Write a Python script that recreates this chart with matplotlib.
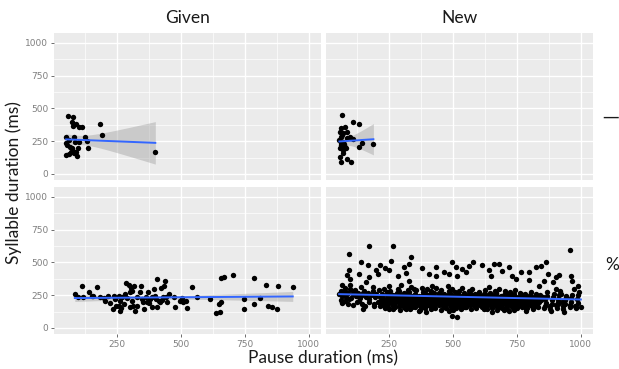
import numpy as np
import matplotlib.pyplot as plt

# facet labels
cols = ["Given", "New"]
rows = ["\u2014", "%"]

# (pause ms, syllable ms), one list per facet
given_dash = [(56, 439), (78, 434), (73, 393), (78, 367), (89, 383), (99, 355), (112, 355),
              (181, 383), (190, 298), (50, 286), (82, 286), (122, 286), (132, 253), (86, 247),
              (50, 235), (66, 209), (73, 196), (78, 179), (89, 171), (62, 153), (50, 145),
              (93, 138), (136, 199), (399, 171), (54, 222), (69, 171), (82, 158), (95, 196),
              (101, 247), (60, 260)]

new_dash = [(66, 450), (110, 400), (133, 382), (63, 349), (77, 361), (57, 323), (70, 310),
            (83, 323), (60, 285), (55, 260), (70, 247), (83, 272), (63, 221), (77, 209),
            (57, 196), (70, 183), (133, 209), (142, 234), (188, 226), (57, 132), (63, 94),
            (86, 112), (99, 94), (110, 265), (96, 285), (66, 300), (74, 232), (60, 240),
            (80, 198), (68, 160)]

given_pct = [(84, 259), (98, 234), (114, 317), (157, 241), (170, 315), (183, 234), (203, 208),
             (212, 246), (222, 190), (242, 221), (255, 246), (262, 208), (255, 165), (259, 132),
             (266, 150), (275, 183), (285, 343), (295, 327), (304, 302), (314, 317), (281, 259),
             (290, 226), (301, 272), (308, 208), (299, 157), (312, 165), (321, 132), (327, 234),
             (338, 272), (343, 317), (351, 195), (356, 145), (364, 234), (369, 277), (373, 190),
             (380, 221), (386, 157), (393, 297), (396, 241), (406, 373), (413, 208), (422, 302),
             (430, 234), (433, 317), (435, 360), (442, 234), (406, 157), (416, 195), (446, 195),
             (452, 259), (141, 272), (150, 246), (117, 234), (236, 241), (246, 170), (268, 234),
             (233, 145), (199, 226), (308, 284), (327, 165), (347, 221), (367, 195), (386, 234),
             (400, 221), (426, 216), (472, 234), (478, 157), (495, 208), (504, 226), (508, 195),
             (518, 208), (524, 150), (544, 310), (564, 234), (614, 221), (636, 114), (653, 119),
             (649, 183), (656, 378), (669, 386), (702, 404), (656, 195), (745, 221), (745, 145),
             (787, 378), (787, 183), (807, 226), (833, 327), (839, 170), (855, 157), (876, 145),
             (881, 317), (937, 315)]

new_pct = [(172, 627), (263, 622), (91, 563), (335, 538), (139, 500), (165, 480), (213, 480),
           (257, 508), (234, 454), (198, 444), (205, 411), (250, 444), (130, 411), (91, 444),
           (83, 404), (96, 373), (65, 327), (61, 284), (78, 302), (67, 246), (65, 201), (93, 221),
           (54, 259), (110, 284), (120, 246), (146, 266), (159, 348), (172, 386), (133, 208),
           (154, 165), (146, 145), (191, 183), (309, 462), (328, 487), (315, 419), (286, 393),
           (328, 360), (380, 454), (404, 411), (432, 462), (465, 424), (495, 505), (510, 462),
           (536, 449), (563, 475), (576, 500), (552, 424), (517, 398), (484, 411), (432, 393),
           (615, 480), (641, 444), (648, 398), (661, 487), (680, 492), (693, 437), (717, 462),
           (732, 393), (745, 373), (765, 424), (797, 424), (797, 368), (826, 462), (843, 475),
           (862, 505), (873, 411), (902, 386), (915, 404), (957, 596), (961, 398), (967, 360),
           (987, 322), (974, 297), (993, 272), (1000, 157), (980, 157), (941, 234), (928, 201),
           (922, 259), (902, 297), (889, 348), (856, 360), (837, 322), (850, 234), (883, 132),
           (935, 119), (909, 183), (497, 94), (517, 81), (484, 132), (393, 119), (367, 132),
           (315, 145), (654, 119), (720, 132), (784, 132),
           (212, 168), (218, 205), (214, 238), (221, 262), (209, 291), (225, 185),
           (232, 150), (238, 178), (236, 221), (240, 248), (229, 300), (243, 272), (234, 198),
           (251, 142), (258, 190), (256, 226), (260, 255), (249, 318), (263, 170), (254, 284),
           (271, 160), (278, 205), (276, 240), (281, 268), (269, 186), (284, 298), (273, 229),
           (291, 138), (297, 176), (294, 215), (300, 250), (289, 279), (303, 196), (296, 330),
           (312, 152), (318, 188), (316, 232), (320, 262), (309, 207), (323, 290), (314, 171),
           (331, 146), (338, 199), (336, 224), (340, 244), (329, 276), (343, 181), (334, 312), (339, 163),
           (351, 158), (357, 187), (356, 214), (360, 236), (349, 262), (363, 201), (354, 287),
           (371, 140), (378, 178), (376, 226), (381, 251), (369, 197), (384, 273), (373, 162), (379, 305),
           (391, 150), (397, 193), (394, 218), (400, 240), (389, 267), (403, 172), (396, 296),
           (412, 144), (418, 185), (416, 209), (420, 233), (409, 258), (423, 166), (414, 282), (419, 320),
           (431, 155), (438, 196), (436, 221), (440, 247), (429, 180), (443, 270), (434, 302),
           (451, 138), (457, 174), (456, 213), (460, 237), (449, 262), (463, 195), (454, 290),
           (471, 149), (478, 188), (476, 226), (481, 252), (469, 168), (484, 279), (473, 207), (479, 318),
           (491, 160), (497, 182), (494, 215), (500, 243), (489, 268), (503, 199), (496, 299), (498, 141),
           (512, 152), (518, 191), (516, 230), (520, 256), (509, 173), (523, 284), (514, 211),
           (531, 145), (538, 179), (536, 220), (540, 246), (529, 200), (543, 270), (534, 306), (539, 163),
           (551, 157), (557, 193), (556, 228), (560, 252), (549, 176), (563, 281), (554, 210),
           (571, 143), (578, 184), (576, 216), (581, 240), (569, 263), (584, 165), (573, 296), (579, 200),
           (591, 150), (597, 190), (594, 224), (600, 249), (589, 172), (603, 276), (596, 207),
           (612, 160), (618, 196), (616, 233), (620, 258), (609, 178), (623, 290), (614, 214), (619, 143),
           (631, 148), (638, 186), (636, 219), (640, 245), (629, 167), (643, 270), (634, 204), (639, 312),
           (651, 153), (657, 192), (656, 228), (660, 255), (649, 174), (663, 283), (654, 211),
           (671, 141), (678, 180), (676, 215), (681, 240), (669, 266), (684, 162), (673, 199), (679, 298),
           (691, 155), (697, 194), (694, 226), (700, 250), (689, 173), (703, 279), (696, 210), (698, 136),
           (712, 147), (718, 185), (716, 222), (720, 246), (709, 166), (723, 272), (714, 204),
           (731, 158), (738, 196), (736, 230), (740, 257), (729, 177), (743, 288), (734, 213), (739, 140),
           (751, 150), (757, 189), (756, 218), (760, 243), (749, 169), (763, 268), (754, 203),
           (771, 162), (778, 200), (776, 235), (781, 262), (769, 181), (784, 147), (773, 217),
           (791, 154), (797, 191), (794, 223), (800, 250), (789, 172), (803, 278), (796, 207),
           (812, 145), (818, 183), (816, 214), (820, 238), (809, 166), (823, 262), (814, 199),
           (831, 160), (838, 196), (836, 229), (840, 255), (829, 177), (843, 212),
           (856, 150), (863, 188), (861, 222), (866, 247), (859, 170), (868, 276),
           (881, 142), (888, 181), (886, 210), (890, 236), (879, 164), (893, 263),
           (906, 155), (912, 195), (911, 224), (915, 250), (904, 175), (918, 280),
           (931, 148), (938, 186), (936, 215), (940, 244), (929, 168),
           (956, 160), (962, 196), (961, 228), (965, 254), (958, 176),
           (981, 150), (988, 190), (986, 222), (990, 248), (979, 170),
           (62, 215), (70, 250), (75, 280), (82, 238), (88, 265), (95, 300), (102, 225),
           (108, 258), (115, 290), (122, 242), (128, 270), (135, 230), (142, 255), (150, 285),
           (158, 240), (165, 268), (172, 220), (180, 252), (188, 280), (195, 235), (200, 262),
           (66, 190), (78, 205), (90, 180), (110, 175), (125, 195), (145, 185), (170, 195),
           (190, 170), (205, 195), (98, 330), (140, 315), (185, 312)]

# the solid black core of the New / % facet: pause ms -> syllable ms values
new_pct_core = {
    222: [176, 212, 247, 198, 230], 245: [160, 193, 229, 263, 211],
    266: [182, 217, 251, 199, 236, 148], 287: [170, 203, 238, 190, 262],
    306: [163, 199, 225, 245, 184, 270], 326: [177, 214, 252, 193, 232],
    346: [168, 206, 241, 187, 224, 297], 366: [174, 210, 247, 192, 230],
    386: [161, 199, 235, 182, 221, 258], 406: [178, 213, 249, 195, 231],
    426: [166, 205, 240, 186, 224, 266], 446: [172, 208, 245, 190, 228],
    466: [162, 199, 233, 181, 218, 259], 486: [175, 212, 248, 194, 230],
    506: [167, 204, 239, 186, 222, 272], 526: [171, 208, 244, 190, 227],
    546: [163, 200, 236, 182, 219, 255], 566: [176, 213, 249, 195, 231],
    586: [168, 205, 241, 187, 224, 263], 606: [172, 209, 245, 190, 227],
    626: [161, 199, 234, 181, 217, 258], 646: [175, 211, 247, 194, 230],
    666: [166, 203, 239, 185, 222, 269], 686: [171, 207, 243, 189, 226],
    706: [162, 200, 235, 182, 218, 256], 726: [176, 212, 248, 194, 231],
    746: [167, 204, 240, 186, 223], 766: [172, 208, 244, 190, 227, 258],
    786: [163, 201, 236, 182, 219], 806: [175, 211, 246, 193, 229],
    826: [166, 204, 239, 185, 221],
}
new_pct = new_pct + [(x, y) for x, ys in new_pct_core.items() for y in ys]

panels = {(0, 0): given_dash, (0, 1): new_dash, (1, 0): given_pct, (1, 1): new_pct}

xticks = [250, 500, 750, 1000]
yticks = [0, 250, 500, 750, 1000]


def smooth(ax, pts):
    # geom_smooth(method = "lm"): fit line + 95% band
    d = np.array(pts, dtype=float)
    x, y = d[:, 0], d[:, 1]
    n = len(x)
    b, a = np.polyfit(x, y, 1)
    resid = y - (a + b * x)
    s = np.sqrt(np.sum(resid ** 2) / (n - 2))
    xs = np.linspace(x.min(), x.max(), 80)
    se = s * np.sqrt(1 / n + (xs - x.mean()) ** 2 / np.sum((x - x.mean()) ** 2))
    z = 1.96
    t = z + (z ** 3 + z) / (4 * (n - 2))
    fit = a + b * xs
    ax.fill_between(xs, fit - t * se, fit + t * se, color='#999999', alpha=0.4, lw=0, zorder=2)
    ax.plot(xs, fit, color='#3366FF', lw=1.4, zorder=4)


fig = plt.figure(figsize=(6.19, 3.69), dpi=100)
W, H = 619, 369
lefts = [54, 326]
tops = [33, 187]
pw, ph = 267, 147

for (r, c), pts in panels.items():
    ax = fig.add_axes([lefts[c] / W, 1 - (tops[r] + ph) / H, pw / W, ph / H])
    ax.set_facecolor('#EBEBEB')
    for sp in ax.spines.values():
        sp.set_visible(False)
    ax.set_xlim(2.5, 1047.5)
    ax.set_ylim(-46, 1076)
    ax.set_xticks(xticks)
    ax.set_yticks(yticks)
    ax.set_xticks([125, 375, 625, 875], minor=True)
    ax.set_yticks([125, 375, 625, 875], minor=True)
    ax.grid(True, which='major', color='white', lw=1.0)
    ax.grid(True, which='minor', color='white', lw=0.5)
    ax.set_axisbelow(True)
    ax.tick_params(which='minor', length=0)
    ax.tick_params(which='major', length=2.5, width=0.6, color='#555555',
                   labelsize=6.5, labelcolor='#7F7F7F', pad=1.5)
    if r == 0:
        ax.tick_params(axis='x', length=0, labelbottom=False)
    if c == 1:
        ax.tick_params(axis='y', length=0, labelleft=False)
    d = np.array(pts)
    ax.scatter(d[:, 0], d[:, 1], s=15, color='black', lw=0, zorder=3)
    smooth(ax, pts)

lab_font = 'Lato'
for c, name in enumerate(cols):
    fig.text((lefts[c] + pw / 2) / W, 1 - 18 / H, name, ha='center', va='center',
             fontsize=12.5, family=lab_font, color='#1A1A1A')
fig.text(611 / W, 1 - 117 / H, rows[0], ha='center', va='center', fontsize=12,
         family='DejaVu Sans', color='#1A1A1A')
fig.text(612 / W, 1 - 265 / H, rows[1], ha='center', va='center', fontsize=12.5,
         family=lab_font, color='#1A1A1A')
fig.text(323 / W, 1 - 358 / H, "Pause duration (ms)", ha='center', va='center',
         fontsize=12.5, family=lab_font, color='#1A1A1A')
fig.text(14 / W, 1 - 183 / H, "Syllable duration (ms)", ha='center', va='center',
         rotation=90, fontsize=12.5, family=lab_font, color='#1A1A1A')

fig.savefig("out.png", dpi=100)
